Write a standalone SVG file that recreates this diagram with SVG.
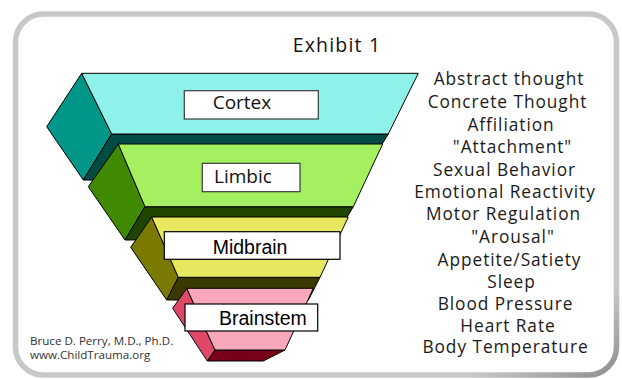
<svg xmlns="http://www.w3.org/2000/svg" width="622" height="379" viewBox="0 0 622 379">
<style>
.face{stroke:#000;stroke-width:1;stroke-linejoin:round}
.box{fill:#fff;stroke:#3a3a3a;stroke-width:1.2}
.lbl{font-family:"Open Sans","Liberation Sans",sans-serif;font-size:19px;fill:#111}
.lblA{font-family:"Liberation Sans",Arial,sans-serif;font-size:19.5px;fill:#000}
.fn{font-family:"Open Sans","Liberation Sans",sans-serif;font-size:17.3px;fill:#1a1a1a;text-anchor:middle;letter-spacing:0.95px}
.cr{font-family:"Open Sans","Liberation Sans",sans-serif;font-size:11.6px;fill:#333}
</style>
<defs>
<linearGradient id="bord" x1="0" y1="0" x2="1" y2="1">
<stop offset="0" stop-color="#c8c8c8"/>
<stop offset="0.88" stop-color="#c8c8c8"/>
<stop offset="1" stop-color="#8e8e8e"/>
</linearGradient>
</defs>
<rect x="0" y="0" width="622" height="379" fill="#fff"/>
<rect id="frame" x="15.5" y="14" width="601" height="361" rx="28" ry="28" fill="#fff" stroke="url(#bord)" stroke-width="5.5"/>
<text id="title" x="337" y="51.5" text-anchor="middle" font-family="'Open Sans','Liberation Sans',sans-serif" font-size="19.5" letter-spacing="1.2" fill="#111">Exhibit 1</text>

<g id="cortex">
<polygon class="face" fill="#009688" points="81.7,73.3 46.7,126.7 83.3,180 111.7,134"/>
<polygon class="face" fill="#004c44" points="111.7,134 388.3,134 360,180 83.3,180"/>
<polygon class="face" fill="#8ef2ea" points="81.7,73.3 418.3,73.3 388.3,134 111.7,134"/>
<rect class="box" x="184.3" y="90.7" width="134" height="28.3"/>
<text class="lbl" x="212.7" y="108.7">Cortex</text>
</g>

<g id="limbic">
<polygon class="face" fill="#3f8a00" points="118.3,144 88.3,186.7 125,240 145,206.7"/>
<polygon class="face" fill="#1f4500" points="145,206.7 353.3,206.7 333.3,240 125,240"/>
<polygon class="face" fill="#a4f060" points="118.3,144 382.7,144 353.3,206.7 145,206.7"/>
<rect class="box" x="202.3" y="163.3" width="97.7" height="28.4"/>
<text class="lbl" x="214" y="182.7">Limbic</text>
</g>

<g id="midbrain">
<polygon class="face" fill="#7a7a00" points="151.7,217 130.7,247.3 166.7,300 178.3,277.3"/>
<polygon class="face" fill="#3a3a00" points="178.3,277.3 320,277.3 308.4,300 166.7,300"/>
<polygon class="face" fill="#e8e860" points="151.7,217 348.3,217 320,277.3 178.3,277.3"/>
<rect class="box" x="164.3" y="231.7" width="175.7" height="27.6" style="stroke:#000"/>
<text class="lblA" x="212.7" y="254">Midbrain</text>
</g>

<g id="brainstem">
<polygon class="face" fill="#e04868" points="186.7,288.3 172.7,308.3 207.3,361 215,350"/>
<polygon class="face" fill="#780018" points="215,350 285,350 263.3,361 207.3,361"/>
<polygon class="face" fill="#f8a8b8" points="186.7,288.3 313.3,288.3 285,350 215,350"/>
<rect class="box" x="185" y="304" width="132.7" height="27" style="stroke:#000"/>
<text class="lblA" x="219" y="325">Brainstem</text>
</g>

<g id="functions">
<text class="fn" x="509" y="85">Abstract thought</text>
<text class="fn" x="507.5" y="107.7">Concrete Thought</text>
<text class="fn" x="511" y="130.7">Affiliation</text>
<text class="fn" x="512.5" y="153.3">"Attachment"</text>
<text class="fn" x="504.5" y="175.7">Sexual Behavior</text>
<text class="fn" x="505" y="198">Emotional Reactivity</text>
<text class="fn" x="503.5" y="219.5">Motor Regulation</text>
<text class="fn" x="513" y="242.7">"Arousal"</text>
<text class="fn" x="509.5" y="265.8">Appetite/Satiety</text>
<text class="fn" x="511.5" y="287.5">Sleep</text>
<text class="fn" x="505.5" y="310">Blood Pressure</text>
<text class="fn" x="508" y="331.5">Heart Rate</text>
<text class="fn" x="505.5" y="352.8">Body Temperature</text>
</g>

<g id="credit">
<text class="cr" x="30" y="345.3">Bruce D. Perry, M.D., Ph.D.</text>
<text class="cr" x="30" y="359.3">www.ChildTrauma.org</text>
</g>
</svg>
